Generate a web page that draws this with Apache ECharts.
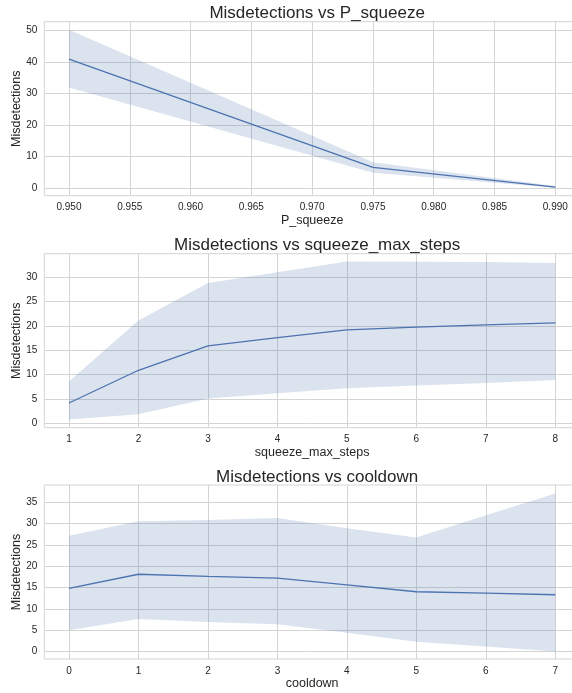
<!DOCTYPE html>
<html>
<head>
<meta charset="utf-8">
<script src="https://cdn.jsdelivr.net/npm/echarts@6/dist/echarts.min.js"></script>
<style>
  html, body { margin: 0; padding: 0; background: #ffffff; }
  #chart { width: 572px; height: 693px; }
</style>
</head>
<body>
<div id="chart"></div>
<script>
// ---- Panel 1: P_squeeze ----
const pX = [0.95, 0.975, 0.99];
const pMean = [40.9, 6.6, 0.3];
const pUpper = [50.2, 8.2, 0.7];
const pLower = [31.9, 4.9, 0.1];
const pTicksX = [0.95, 0.955, 0.96, 0.965, 0.97, 0.975, 0.98, 0.985, 0.99];
const pTicksY = [0, 10, 20, 30, 40, 50];

// ---- Panel 2: squeeze_max_steps ----
const sX = [1, 2, 3, 4, 5, 6, 7, 8];
const sMean = [4.2, 10.9, 15.9, 17.6, 19.2, 19.75, 20.2, 20.6];
const sUpper = [8.6, 21.1, 28.8, 31.0, 33.2, 33.15, 33.1, 32.9];
const sLower = [0.8, 1.9, 5.1, 6.2, 7.2, 7.8, 8.3, 8.9];
const sTicksX = [1, 2, 3, 4, 5, 6, 7, 8];
const sTicksY = [0, 5, 10, 15, 20, 25, 30];

// ---- Panel 3: cooldown ----
const cX = [0, 1, 2, 3, 4, 5, 6, 7];
const cMean = [14.8, 18.1, 17.6, 17.2, 15.6, 14.0, 13.7, 13.3];
const cUpper = [27.1, 30.5, 30.8, 31.3, 28.9, 26.7, 31.9, 37.0];
const cLower = [5.0, 7.6, 6.9, 6.4, 4.4, 2.3, 1.2, 0.0];
const cTicksX = [0, 1, 2, 3, 4, 5, 6, 7];
const cTicksY = [0, 5, 10, 15, 20, 25, 30, 35];

const titles = ['Misdetections vs P_squeeze', 'Misdetections vs squeeze_max_steps', 'Misdetections vs cooldown'];
const xNames = ['P_squeeze', 'squeeze_max_steps', 'cooldown'];
const yName = 'Misdetections';

const FONT = '"Liberation Sans", Arial, sans-serif';
const TXT = '#262626';
const GRIDC = '#d4d4d4';
const LINE = '#4C72B0';

const panels = [
  { x: pX, mean: pMean, up: pUpper, lo: pLower, tx: pTicksX, ty: pTicksY,
    xmin: 0.94797, xmax: 0.99203, ymin: -2.4, ymax: 52.75, top: 21.7, fmt: v => v.toFixed(3) },
  { x: sX, mean: sMean, up: sUpper, lo: sLower, tx: sTicksX, ty: sTicksY,
    xmin: 0.645, xmax: 8.355, ymin: -0.87, ymax: 34.8, top: 253.7, fmt: v => String(v) },
  { x: cX, mean: cMean, up: cUpper, lo: cLower, tx: cTicksX, ty: cTicksY,
    xmin: -0.355, xmax: 7.355, ymin: -1.75, ymax: 39.0, top: 485, fmt: v => String(v) }
];

const grids = [], xAxes = [], yAxes = [], series = [], titleOpts = [];
const gridLeft = 44.3, gridWidth = 535.7, gridHeight = 174;
const titleTops = [-0.5, 232, 464];

panels.forEach((p, i) => {
  grids.push({ left: gridLeft, top: p.top, width: gridWidth, height: gridHeight,
    outerBoundsMode: 'none', containLabel: false,
    show: true, borderColor: GRIDC, borderWidth: 1, backgroundColor: 'transparent' });
  titleOpts.push({ text: titles[i], left: gridLeft + gridWidth / 2, top: titleTops[i], textAlign: 'center',
    textStyle: { fontFamily: FONT, fontSize: 17, fontWeight: 'normal', color: TXT } });
  xAxes.push({
    type: 'value', gridIndex: i, min: p.xmin, max: p.xmax,
    name: xNames[i], nameLocation: 'middle', nameGap: 18, nameMoveOverlap: false,
    nameTextStyle: { fontFamily: FONT, fontSize: 12.5, color: TXT },
    axisLine: { show: false },
    axisTick: { show: false, customValues: p.tx },
    axisLabel: { customValues: p.tx, formatter: p.fmt, fontFamily: FONT, fontSize: 10, color: TXT, margin: 7 },
    splitLine: { show: true, lineStyle: { color: GRIDC, width: 1 } }
  });
  yAxes.push({
    type: 'value', gridIndex: i, min: p.ymin, max: p.ymax,
    name: yName, nameLocation: 'middle', nameGap: 21, nameMoveOverlap: false,
    nameTextStyle: { fontFamily: FONT, fontSize: 12.5, color: TXT },
    axisLine: { show: false },
    axisTick: { show: false, customValues: p.ty },
    axisLabel: { customValues: p.ty, fontFamily: FONT, fontSize: 10, color: TXT, margin: 7 },
    splitLine: { show: true, lineStyle: { color: GRIDC, width: 1 } }
  });
  // confidence band as one polygon, placed through the axes' scales
  const bandRows = p.x.map((x, k) => [x, p.lo[k], p.up[k]]);
  series.push({
    type: 'custom', xAxisIndex: i, yAxisIndex: i, data: bandRows, silent: true, z: 1,
    encode: { x: 0, y: [1, 2] },
    renderItem: function (params, api) {
      if (params.dataIndex !== 0) return null;
      const upPts = bandRows.map(r => api.coord([r[0], r[2]]));
      const loPts = bandRows.slice().reverse().map(r => api.coord([r[0], r[1]]));
      return {
        type: 'polygon',
        shape: { points: upPts.concat(loPts) },
        style: { fill: LINE, opacity: 0.2, stroke: null }
      };
    }
  });
  series.push({
    type: 'line', xAxisIndex: i, yAxisIndex: i, data: p.x.map((x, k) => [x, p.mean[k]]),
    symbol: 'none', lineStyle: { color: LINE, width: 1.3 }, z: 3
  });
});

const chart = echarts.init(document.getElementById('chart'), null, { renderer: 'canvas' });
chart.setOption({
  animation: false,
  backgroundColor: '#ffffff',
  title: titleOpts,
  grid: grids,
  xAxis: xAxes,
  yAxis: yAxes,
  series: series
});
</script>
</body>
</html>
